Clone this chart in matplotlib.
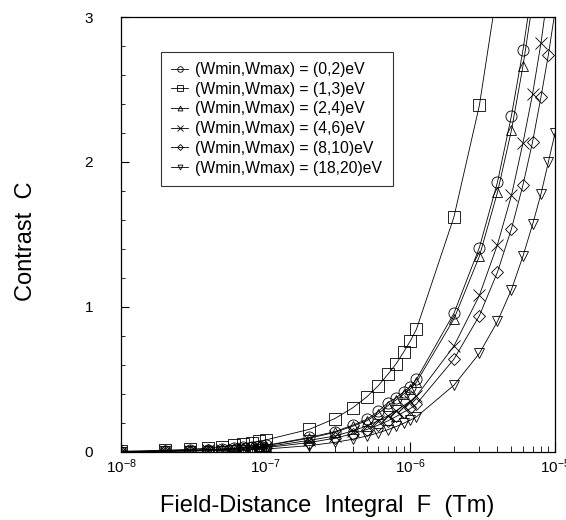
import matplotlib
matplotlib.use('Agg')
import matplotlib.pyplot as plt
from matplotlib.ticker import FixedLocator, LogLocator, NullFormatter

plt.rcParams['font.family'] = ['Liberation Sans', 'DejaVu Sans']
plt.rcParams['mathtext.default'] = 'regular'

# Field-distance integral F (Tm)
F = [1e-8, 2e-8, 3e-8, 4e-8, 5e-8, 6e-8, 7e-8, 8e-8, 9e-8, 1e-7,
     2e-7, 3e-7, 4e-7, 5e-7, 6e-7, 7e-7, 8e-7, 9e-7, 1e-6, 1.1e-6,
     2e-6, 3e-6, 4e-6, 5e-6, 6e-6, 7e-6, 8e-6, 9e-6, 1e-5]

# Contrast C for each energy window
c_0_2 = [0.0, 0.008, 0.012, 0.017, 0.021, 0.026, 0.031, 0.035, 0.040, 0.045,
         0.10, 0.14, 0.185, 0.225, 0.28, 0.34, 0.375, 0.415, 0.45, 0.50,
         0.956, 1.41, 1.86, 2.32, 2.77, 3.22]
c_1_3 = [0.005, 0.012, 0.018, 0.027, 0.037, 0.047, 0.057, 0.065, 0.074, 0.083,
         0.156, 0.23, 0.305, 0.38, 0.457, 0.536, 0.61, 0.69, 0.766, 0.845,
         1.62, 2.39, 3.2]
c_2_4 = [0.0, 0.008, 0.012, 0.016, 0.02, 0.025, 0.03, 0.034, 0.038, 0.043,
         0.095, 0.135, 0.178, 0.215, 0.265, 0.32, 0.36, 0.40, 0.435, 0.48,
         0.917, 1.35, 1.79, 2.22, 2.66, 3.1]
c_4_6 = [0.0, 0.006, 0.01, 0.014, 0.017, 0.021, 0.025, 0.028, 0.032, 0.036,
         0.08, 0.11, 0.145, 0.18, 0.215, 0.25, 0.285, 0.32, 0.35, 0.385,
         0.73, 1.08, 1.43, 1.77, 2.13, 2.47, 2.82, 3.2]
c_8_10 = [0.0, 0.005, 0.008, 0.011, 0.014, 0.017, 0.02, 0.023, 0.026, 0.03,
          0.065, 0.095, 0.125, 0.155, 0.185, 0.215, 0.245, 0.275, 0.30, 0.33,
          0.64, 0.94, 1.24, 1.54, 1.84, 2.14, 2.45, 2.74, 3.04]
c_18_20 = [0.0, 0.004, 0.006, 0.008, 0.01, 0.012, 0.014, 0.016, 0.018, 0.02,
           0.044, 0.066, 0.088, 0.11, 0.132, 0.154, 0.176, 0.198, 0.22, 0.242,
           0.46, 0.68, 0.90, 1.12, 1.35, 1.57, 1.78, 2.0, 2.2]

series = [
    ('(Wmin,Wmax) = (0,2)eV', c_0_2, 'o'),
    ('(Wmin,Wmax) = (1,3)eV', c_1_3, 's'),
    ('(Wmin,Wmax) = (2,4)eV', c_2_4, '^'),
    ('(Wmin,Wmax) = (4,6)eV', c_4_6, 'x'),
    ('(Wmin,Wmax) = (8,10)eV', c_8_10, 'D'),
    ('(Wmin,Wmax) = (18,20)eV', c_18_20, 'v'),
]
marker_size = {'o': 8, 's': 8, '^': 7, 'x': 8, 'D': 6, 'v': 7}

fig = plt.figure(figsize=(5.66, 5.20), dpi=100)
ax = fig.add_axes([0.2138, 0.1308, 0.7668, 0.8365])

for label, vals, m in series:
    ax.plot(F[:len(vals)], vals, color='black', lw=0.6, marker=m,
            ms=marker_size[m], mfc='none', mec='black', mew=0.6, label=label)

ax.set_xscale('log')
ax.set_xlim(1e-8, 1e-5)
ax.set_ylim(0, 3)

# ticks
ax.xaxis.set_major_locator(FixedLocator([1e-8, 1e-7, 1e-6, 1e-5]))
ax.xaxis.set_minor_locator(LogLocator(base=10, subs=range(2, 10)))
ax.xaxis.set_minor_formatter(NullFormatter())
ax.set_xticklabels(['10$^{-8}$', '10$^{-7}$', '10$^{-6}$', '10$^{-5}$'])
ax.yaxis.set_major_locator(FixedLocator([0, 1, 2, 3]))
ax.yaxis.set_minor_locator(FixedLocator([0.2 * i for i in range(16)]))
ax.set_yticklabels(['0', '1', '2', '3'])
ax.tick_params(axis='both', which='both', direction='in', top=False, right=False)
ax.tick_params(axis='x', which='major', length=7, width=0.8, pad=4, labelsize=11)
ax.tick_params(axis='x', which='minor', length=4, width=0.6)
ax.tick_params(axis='y', which='major', length=6, width=0.8, pad=20, labelsize=11)
ax.tick_params(axis='y', which='minor', length=3, width=0.6)

for sp in ax.spines.values():
    sp.set_linewidth(0.9)

fig.text(0.046, 0.537, 'Contrast  C', rotation=90, ha='center', va='center',
         fontsize=17)
fig.text(0.578, 0.027, 'Field-Distance  Integral  F  (Tm)', ha='center',
         va='center', fontsize=17)

leg = ax.legend(loc='upper left', bbox_to_anchor=(0.092, 0.92),
                frameon=True, fancybox=False, edgecolor='black',
                fontsize=11.3, handlelength=1.1, markerscale=0.5,
                handletextpad=0.45, labelspacing=0.3, borderpad=0.65,
                borderaxespad=0)
leg.get_frame().set_linewidth(0.8)

plt.savefig('out.png', dpi=100, facecolor='white')
